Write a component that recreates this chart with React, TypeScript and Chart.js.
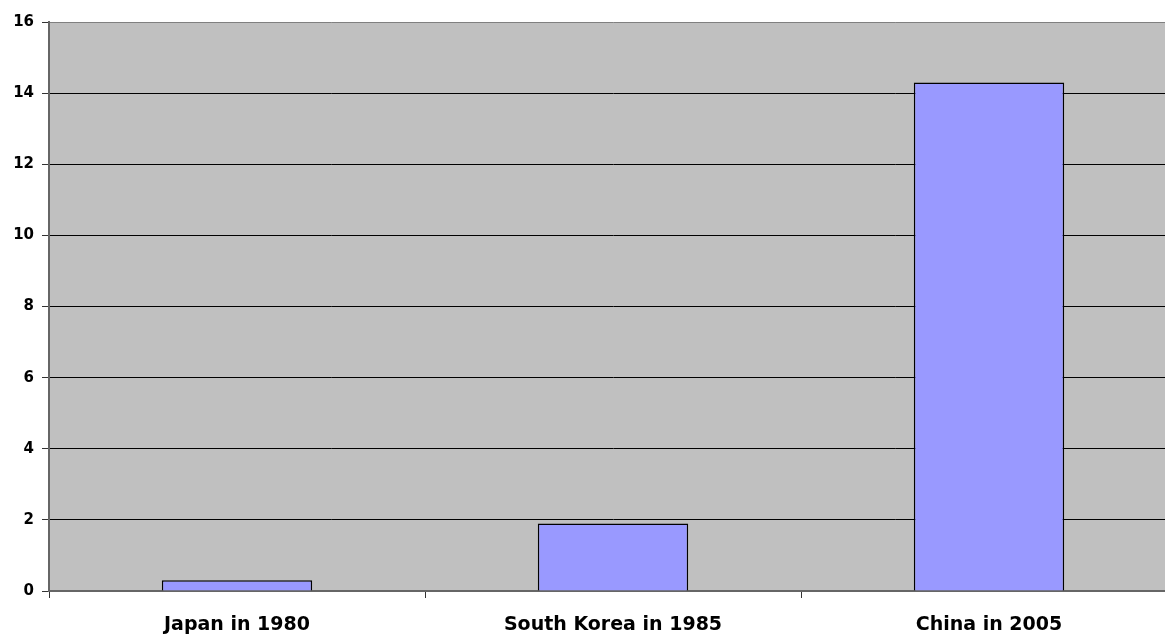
import React, { useEffect, useRef } from "react";
import { Chart, registerables } from "chart.js";

Chart.register(...registerables);

const categories = ["Japan in 1980", "South Korea in 1985", "China in 2005"];
const values = [0.3, 1.9, 14.3];
const yMin = 0;
const yMax = 16;
const yStep = 2;

const plotBg = {
  id: "plotBg",
  beforeDraw(chart: any) {
    const { ctx, chartArea } = chart;
    ctx.save();
    ctx.fillStyle = "#C0C0C0";
    ctx.fillRect(chartArea.left, chartArea.top, chartArea.right - chartArea.left, chartArea.bottom - chartArea.top);
    ctx.restore();
  },
};

export default function App() {
  const ref = useRef<HTMLCanvasElement>(null);
  useEffect(() => {
    const chart = new Chart(ref.current!, {
      type: "bar",
      data: {
        labels: categories,
        datasets: [
          {
            data: values,
            backgroundColor: "#9999FF",
            borderColor: "#000000",
            borderWidth: 1.5,
            barPercentage: 0.4,
            categoryPercentage: 1,
          },
        ],
      },
      options: {
        animation: false,
        responsive: false,
        maintainAspectRatio: false,
        layout: { padding: { top: 22, right: 0, left: 0, bottom: 0 } },
        plugins: { legend: { display: false }, tooltip: { enabled: false } },
        scales: {
          x: {
            grid: {
              display: true,
              drawOnChartArea: false,
              drawTicks: true,
              tickLength: 7,
              color: "#333333",
              offset: true,
            },
            border: { display: true, color: "#666666", width: 2 },
            ticks: {
              color: "#000000",
              padding: 16,
              font: { family: "DejaVu Sans", weight: "bold", size: 19 },
              maxRotation: 0,
            },
            afterFit: (s: any) => {
              s.height = 46;
            },
          },
          y: {
            min: yMin,
            max: yMax,
            ticks: {
              stepSize: yStep,
              color: "#000000",
              padding: 8,
              font: { family: "DejaVu Sans", weight: "bold", size: 15 },
            },
            grid: {
              color: (c: any) => (c.tick && c.tick.value === yMax ? "#808080" : "#000000"),
              lineWidth: 1,
              tickLength: 7,
              tickColor: "#333333",
            },
            border: { display: true, color: "#666666", width: 2 },
            afterFit: (s: any) => {
              s.width = 49;
            },
          },
        },
      },
      plugins: [plotBg],
    });
    return () => chart.destroy();
  }, []);
  return (
    <div style={{ position: "fixed", left: 0, top: 0, width: 1165, height: 637, overflow: "hidden", background: "#fff" }}>
      <canvas ref={ref} width={1177} height={637} style={{ display: "block" }} />
    </div>
  );
}
